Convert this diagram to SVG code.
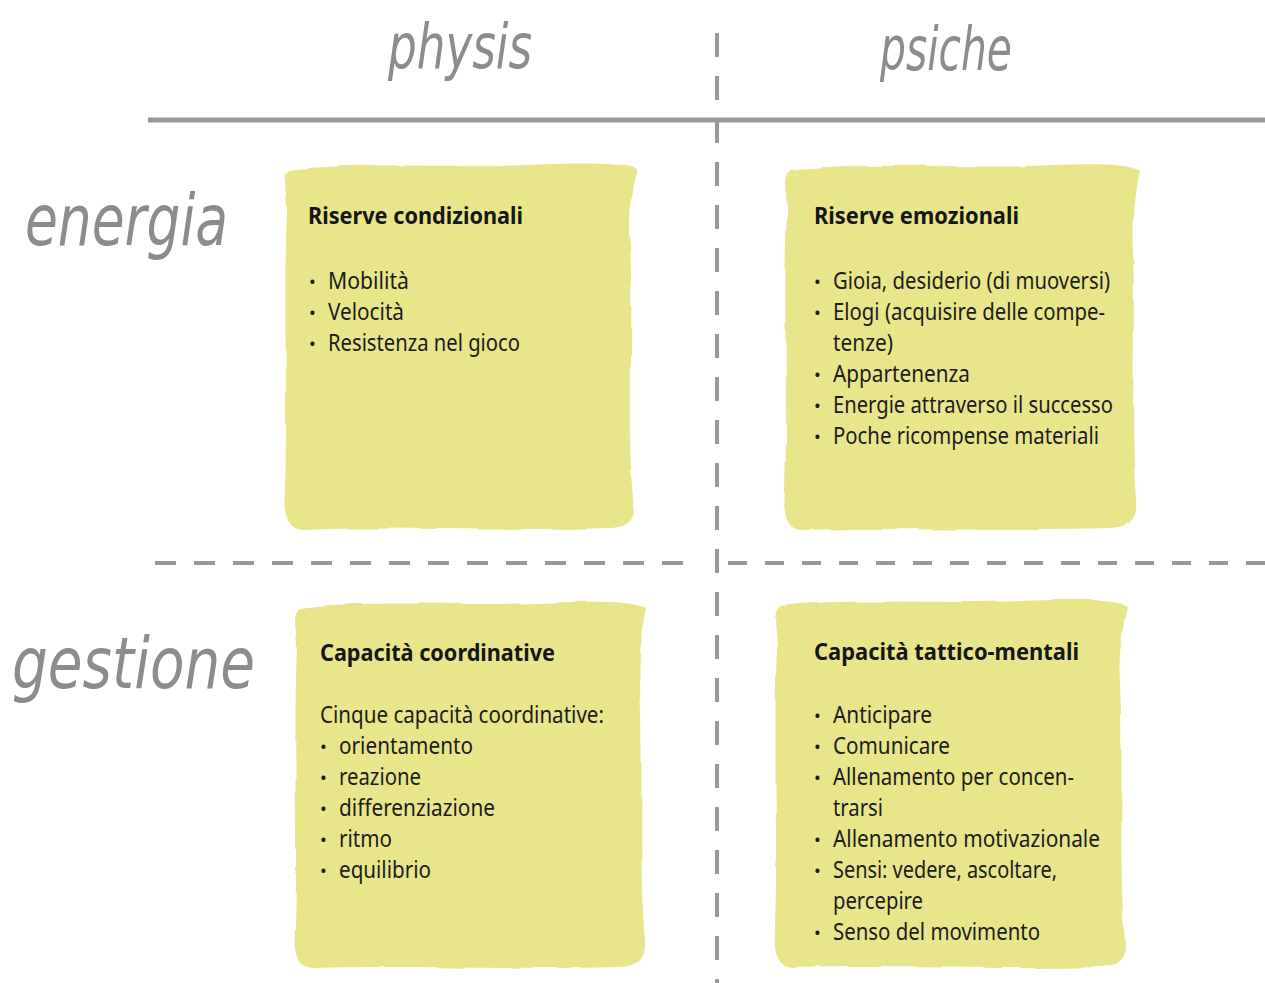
<svg xmlns="http://www.w3.org/2000/svg" width="1265" height="983" viewBox="0 0 1265 983">
  <style>
    .axis { stroke: #999999; fill: none; }
    .wash { fill: #e9e58a; filter: url(#rough); }
    .hand { font-family: "DejaVu Sans", "Noto Sans", sans-serif; font-style: italic; fill: #8c8c8c; }
    .head { font-family: "Liberation Sans Narrow", "Noto Sans", sans-serif; font-weight: bold; font-size: 24px; fill: #161616; }
    .item { font-family: "Liberation Sans Narrow", "Noto Sans", sans-serif; font-size: 23px; fill: #1c1c1c; }
    .dot { font-family: "Noto Sans", sans-serif; font-size: 18px; fill: #1c1c1c; }
  </style>
  <defs>
    <!-- soft, brushy edge for the watercolour panels -->
    <filter id="rough" x="-5%" y="-5%" width="110%" height="110%">
      <feTurbulence type="fractalNoise" baseFrequency="0.018" numOctaves="2" seed="7" result="n"/>
      <feDisplacementMap in="SourceGraphic" in2="n" scale="5" xChannelSelector="R" yChannelSelector="G" result="d"/>
      <feGaussianBlur in="d" stdDeviation="0.7"/>
    </filter>
  </defs>

  <rect width="1265" height="983" fill="#ffffff"/>

  <!-- grid lines separating the four quadrants -->
  <g id="grid-lines">
    <line class="axis" x1="148" y1="120" x2="1265" y2="120" stroke-width="5"/>
    <line class="axis" x1="717" y1="33" x2="717" y2="983" stroke-width="4" stroke-dasharray="24 19"/>
    <line class="axis" x1="155" y1="563" x2="700" y2="563" stroke-width="4" stroke-dasharray="21 18"/>
    <line class="axis" x1="728" y1="563" x2="1265" y2="563" stroke-width="4" stroke-dasharray="19 18"/>
  </g>

  <!-- column and row labels -->
  <g id="labels">
    <text class="hand" x="388" y="68" font-size="62" textLength="144" lengthAdjust="spacingAndGlyphs">physis</text>
    <text class="hand" x="880" y="70" font-size="60" textLength="132" lengthAdjust="spacingAndGlyphs">psiche</text>
    <text class="hand" x="25" y="245" font-size="72" textLength="203" lengthAdjust="spacingAndGlyphs">energia</text>
    <text class="hand" x="12" y="688" font-size="72" textLength="243" lengthAdjust="spacingAndGlyphs">gestione</text>
  </g>

  <!-- energia / physis -->
  <g id="riserve-condizionali">
    <path class="wash" d="M290 170 C350 162 450 168 530 165 C580 163 624 162 637 170 C631 192 627 215 630 245 C634 330 627 420 634 500 C636 520 630 528 610 529 C500 532 400 526 302 530 C287 528 283 514 285 490 C288 400 283 300 287 212 C287 190 281 176 290 170 Z"/>
    <text class="head" x="308" y="224" textLength="215" lengthAdjust="spacingAndGlyphs">Riserve condizionali</text>
    <text class="dot" x="309" y="288">•</text>
    <text class="item" x="328" y="289" textLength="81" lengthAdjust="spacingAndGlyphs">Mobilità</text>
    <text class="dot" x="309" y="319">•</text>
    <text class="item" x="328" y="320" textLength="76" lengthAdjust="spacingAndGlyphs">Velocità</text>
    <text class="dot" x="309" y="350">•</text>
    <text class="item" x="328" y="351" textLength="192" lengthAdjust="spacingAndGlyphs">Resistenza nel gioco</text>
  </g>

  <!-- energia / psiche -->
  <g id="riserve-emozionali">
    <path class="wash" d="M791 170 C850 162 950 168 1030 166 C1080 164 1126 162 1139 171 C1134 195 1131 220 1133 250 C1136 340 1130 420 1136 500 C1137 520 1130 528 1110 529 C1000 532 900 527 800 530 C786 528 783 514 785 490 C788 400 783 300 787 212 C787 190 781 176 791 170 Z"/>
    <text class="head" x="814" y="224" textLength="205" lengthAdjust="spacingAndGlyphs">Riserve emozionali</text>
    <text class="dot" x="814" y="288">•</text>
    <text class="item" x="833" y="289" textLength="277" lengthAdjust="spacingAndGlyphs">Gioia, desiderio (di muoversi)</text>
    <text class="dot" x="814" y="319">•</text>
    <text class="item" x="833" y="320" textLength="272" lengthAdjust="spacingAndGlyphs">Elogi (acquisire delle compe-</text>
    <text class="item" x="833" y="351" textLength="60" lengthAdjust="spacingAndGlyphs">tenze)</text>
    <text class="dot" x="814" y="381">•</text>
    <text class="item" x="833" y="382" textLength="137" lengthAdjust="spacingAndGlyphs">Appartenenza</text>
    <text class="dot" x="814" y="412">•</text>
    <text class="item" x="833" y="413" textLength="280" lengthAdjust="spacingAndGlyphs">Energie attraverso il successo</text>
    <text class="dot" x="814" y="443">•</text>
    <text class="item" x="833" y="444" textLength="266" lengthAdjust="spacingAndGlyphs">Poche ricompense materiali</text>
  </g>

  <!-- gestione / physis -->
  <g id="capacita-coordinative">
    <path class="wash" d="M300 608 C360 600 460 606 540 603 C590 601 634 600 647 609 C642 632 638 655 640 685 C644 770 638 860 645 940 C646 958 640 966 620 967 C510 970 410 965 312 968 C297 966 293 952 295 928 C298 840 293 740 297 650 C297 628 291 614 300 608 Z"/>
    <text class="head" x="320" y="661" textLength="235" lengthAdjust="spacingAndGlyphs">Capacità coordinative</text>
    <text class="item" x="320" y="723" textLength="284" lengthAdjust="spacingAndGlyphs">Cinque capacità coordinative:</text>
    <text class="dot" x="320" y="753">•</text>
    <text class="item" x="339" y="754" textLength="134" lengthAdjust="spacingAndGlyphs">orientamento</text>
    <text class="dot" x="320" y="784">•</text>
    <text class="item" x="339" y="785" textLength="82" lengthAdjust="spacingAndGlyphs">reazione</text>
    <text class="dot" x="320" y="815">•</text>
    <text class="item" x="339" y="816" textLength="156" lengthAdjust="spacingAndGlyphs">differenziazione</text>
    <text class="dot" x="320" y="846">•</text>
    <text class="item" x="339" y="847" textLength="53" lengthAdjust="spacingAndGlyphs">ritmo</text>
    <text class="dot" x="320" y="877">•</text>
    <text class="item" x="339" y="878" textLength="92" lengthAdjust="spacingAndGlyphs">equilibrio</text>
  </g>

  <!-- gestione / psiche -->
  <g id="capacita-tattico-mentali">
    <path class="wash" d="M781 606 C840 598 940 604 1020 601 C1070 599 1114 598 1127 607 C1122 630 1118 655 1120 685 C1124 770 1118 860 1125 940 C1126 958 1120 966 1100 967 C990 970 890 965 792 968 C777 966 773 952 775 928 C778 840 773 740 777 650 C777 628 771 612 781 606 Z"/>
    <text class="head" x="814" y="660" textLength="265" lengthAdjust="spacingAndGlyphs">Capacità tattico-mentali</text>
    <text class="dot" x="814" y="722">•</text>
    <text class="item" x="833" y="723" textLength="99" lengthAdjust="spacingAndGlyphs">Anticipare</text>
    <text class="dot" x="814" y="753">•</text>
    <text class="item" x="833" y="754" textLength="117" lengthAdjust="spacingAndGlyphs">Comunicare</text>
    <text class="dot" x="814" y="784">•</text>
    <text class="item" x="833" y="785" textLength="241" lengthAdjust="spacingAndGlyphs">Allenamento per concen-</text>
    <text class="item" x="833" y="816" textLength="50" lengthAdjust="spacingAndGlyphs">trarsi</text>
    <text class="dot" x="814" y="846">•</text>
    <text class="item" x="833" y="847" textLength="267" lengthAdjust="spacingAndGlyphs">Allenamento motivazionale</text>
    <text class="dot" x="814" y="877">•</text>
    <text class="item" x="833" y="878" textLength="224" lengthAdjust="spacingAndGlyphs">Sensi: vedere, ascoltare,</text>
    <text class="item" x="833" y="909" textLength="90" lengthAdjust="spacingAndGlyphs">percepire</text>
    <text class="dot" x="814" y="939">•</text>
    <text class="item" x="833" y="940" textLength="207" lengthAdjust="spacingAndGlyphs">Senso del movimento</text>
  </g>
</svg>
